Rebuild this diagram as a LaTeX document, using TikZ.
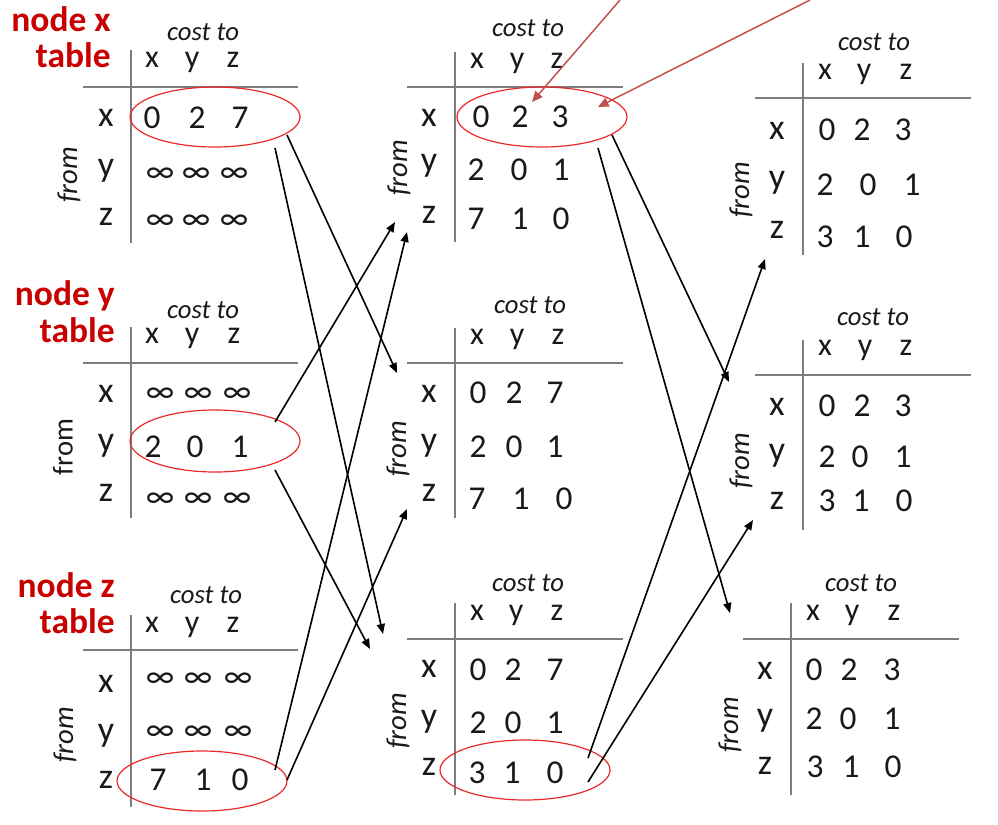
\documentclass[tikz,border=0pt]{standalone}
\usepackage{fontspec}
\setmainfont{Carlito}
\usetikzlibrary{shapes.geometric,arrows.meta}
\definecolor{lblred}{RGB}{200,0,0}
\definecolor{ovalred}{RGB}{235,40,40}
\definecolor{arrred}{RGB}{192,80,77}
\definecolor{linegray}{RGB}{125,125,125}
\definecolor{txt}{RGB}{25,25,25}
\tikzset{
  lbl/.style={text=lblred, font=\fontsize{26.6}{30}\selectfont\bfseries, inner sep=0pt},
  ct/.style={text=txt, font=\fontsize{20}{24}\selectfont\itshape, inner sep=0pt, text depth=0pt},
  hd/.style={text=txt, font=\fontsize{24}{26}\selectfont, inner sep=0pt, text depth=0pt},
  rl/.style={text=txt, font=\fontsize{27}{30}\selectfont, inner sep=0pt, text depth=0pt},
  dg/.style={text=txt, font=\fontsize{25}{28}\selectfont, inner sep=0pt, text depth=0pt},
  inf/.style={text=txt, font=\fontsize{25}{28}\selectfont, inner sep=0pt},
  fr/.style={text=txt, font=\fontsize{21.5}{24}\selectfont\itshape, inner sep=0pt, rotate=90},
  fru/.style={text=txt, font=\fontsize{21.5}{24}\selectfont, inner sep=0pt, rotate=90},
  tline/.style={draw=linegray, line width=1.6pt},
  oval/.style={draw=ovalred, line width=0.9pt, ellipse, inner sep=0pt, minimum width=127.5pt, minimum height=45pt},
  arr/.style={draw=black, line width=1.2pt, -{Triangle[length=7.5pt,width=6pt]}},
  rarr/.style={draw=arrred, line width=1.1pt, -{Triangle[length=8pt,width=7pt]}}
}
\begin{document}
\begin{tikzpicture}[x=0.75pt,y=-0.75pt]
\useasboundingbox (0,0) rectangle (998,824);
% table rules
\foreach \vx/\va/\vb/\hy/\ha/\hb in {131/50/243/87/83/298, 131/327/518/363/83/298, 131/615/807/650/83/298,
  455/52/242/87/407/623, 455/328/518/363/407/623, 455/603/795/639/407/623,
  803/63/255/98/755/971, 803/340/530/375/755/971, 791/603/795/639/743/959}
{\draw[tline] (\vx,\va) -- (\vx,\vb); \draw[tline] (\ha,\hy) -- (\hb,\hy);}
% red titles
\node[lbl, anchor=base east] (lxa) at (111,32) {node x};
\node[lbl, anchor=base east] (lxb) at (111,68) {table};
\node[lbl, anchor=base east] (lya) at (115,305) {node y};
\node[lbl, anchor=base east] (lyb) at (115,342) {table};
\node[lbl, anchor=base east] (lza) at (115,597) {node z};
\node[lbl, anchor=base east] (lzb) at (115,633) {table};
% cost to
\foreach \n/\x/\y in {L1/203/32, L2/203/310, L3/206/595, M1/528/28, M2/530/305, M3/528/583, R1/874/42, R2/873/317, R3/861/583}
  \node[ct] (\n-ct) at (\x,\y) {cost to};
% headers
\foreach \t/\a/\b/\c/\y in {L1/152/192/233/60, L2/152/192/234/336, L3/152/192/233/625,
  M1/477/517/557/61, M2/477/517/558/337, M3/477/516/557/613,
  R1/825/864/906/72, R2/825/865/906/348, R3/813/852/894/613}
{\node[hd] (\t-hx) at (\a,\y) {x}; \node[hd] (\t-hy) at (\b,\y) {y}; \node[hd] (\t-hz) at (\c,\y) {z};}
% row labels
\foreach \t/\x/\a/\b/\c in {L1/106/118/168/217, L2/106/394/443/493, L3/106/684/733/780,
  M1/429/118/163/215, M2/429/394/443/493, M3/429/669/719/767,
  R1/777/131/180/230, R2/777/407/453/501, R3/765/671/718/766}
{\node[rl] (\t-rx) at (\x,\a) {x}; \node[rl] (\t-ry) at (\x,\b) {y}; \node[rl] (\t-rz) at (\x,\c) {z};}
% infinity entries
\foreach \n/\x/\y in {L1i4/160/175, L1i5/196/175, L1i6/234/175, L1i7/160/222, L1i8/196/222, L1i9/234/222,
  L2i1/160/395, L2i2/198/395, L2i3/237/395, L2i7/160/500, L2i8/198/500, L2i9/237/500,
  L3i1/160/680, L3i2/198/680, L3i3/238/680, L3i4/160/733, L3i5/198/733, L3i6/238/733}
  \node[inf] (\n) at (\x,\y) {∞};
% digit entries
\foreach \n/\x/\y/\v in {L1d1/152/118/0, L1d2/197/118/2, L1d3/240/118/7,
  L2d4/153/447/2, L2d5/195/447/0, L2d6/240/447/1,
  L3d7/158/780/7, L3d8/203/780/1, L3d9/240/780/0,
  M1d1/481/117/0, M1d2/520/117/2, M1d3/560/117/3, M1d4/476/170/2, M1d5/519/170/0, M1d6/561/170/1, M1d7/476/219/7, M1d8/520/219/1, M1d9/561/219/0,
  M2d1/478/393/0, M2d2/514/393/2, M2d3/555/393/7, M2d4/478/447/2, M2d5/514/447/0, M2d6/555/447/1, M2d7/477/499/7, M2d8/521/499/1, M2d9/564/499/0,
  M3d1/478/670/0, M3d2/513/670/2, M3d3/555/670/7, M3d4/478/723/2, M3d5/513/723/0, M3d6/555/723/1, M3d7/477/773/3, M3d8/512/773/1, M3d9/555/773/0,
  R1d1/827/130/0, R1d2/862/130/2, R1d3/903/130/3, R1d4/825/185/2, R1d5/868/185/0, R1d6/912/185/1, R1d7/825/237/3, R1d8/862/237/1, R1d9/904/237/0,
  R2d1/827/406/0, R2d2/862/406/2, R2d3/903/406/3, R2d4/827/457/2, R2d5/860/457/0, R2d6/903/457/1, R2d7/827/501/3, R2d8/861/501/1, R2d9/904/501/0,
  R3d1/814/670/0, R3d2/849/670/2, R3d3/892/670/3, R3d4/814/719/2, R3d5/848/719/0, R3d6/892/719/1, R3d7/815/767/3, R3d8/851/767/1, R3d9/893/767/0}
  \node[dg] (\n) at (\x,\y) {\v};
% from labels
\node[fr] (L1-fr) at (69,175) {from};
\node[fru] (L2-fr) at (63,447) {from};
\node[fr] (L3-fr) at (65,735) {from};
\node[fr] (M1-fr) at (399,168) {from};
\node[fr] (M2-fr) at (398,449) {from};
\node[fr] (M3-fr) at (398,721) {from};
\node[fr] (R1-fr) at (741,190) {from};
\node[fr] (R2-fr) at (741,461) {from};
\node[fr] (R3-fr) at (730,725) {from};
% ellipses
\node[oval] (E1) at (215,117) {};
\node[oval, minimum height=46.5pt] (E2) at (215,441) {};
\node[oval] (E3) at (202,781) {};
\node[oval] (E4) at (542,117) {};
\node[oval] (E5) at (525,770) {};
% connector end points
\coordinate (A0) at (287,135); \coordinate (A1) at (397,373);
\coordinate (B0) at (275,148); \coordinate (B1) at (383,634);
\coordinate (C0) at (275,422); \coordinate (C1) at (395,222);
\coordinate (D0) at (275,770); \coordinate (D1) at (407,232);
\coordinate (E0) at (275,470); \coordinate (Et) at (370,649);
\coordinate (F0) at (287,780); \coordinate (F1) at (407,509);
\coordinate (G0) at (612,135); \coordinate (G1) at (729,382);
\coordinate (H0) at (598,148); \coordinate (H1) at (730,613);
\coordinate (I0) at (588,758); \coordinate (I1) at (765,259);
\coordinate (J0) at (588,782); \coordinate (J1) at (753,520);
\coordinate (P0) at (620,0); \coordinate (P1) at (532,102);
\coordinate (Q0) at (810,0); \coordinate (Q1) at (598,107);
% arrows
\foreach \s/\e in {A0/A1, B0/B1, C0/C1, D0/D1, E0/Et, F0/F1, G0/G1, H0/H1, I0/I1, J0/J1}
  \draw[arr] (\s) -- (\e);
\draw[rarr] (P0) -- (P1);
\draw[rarr] (Q0) -- (Q1);
\end{tikzpicture}
\end{document}
